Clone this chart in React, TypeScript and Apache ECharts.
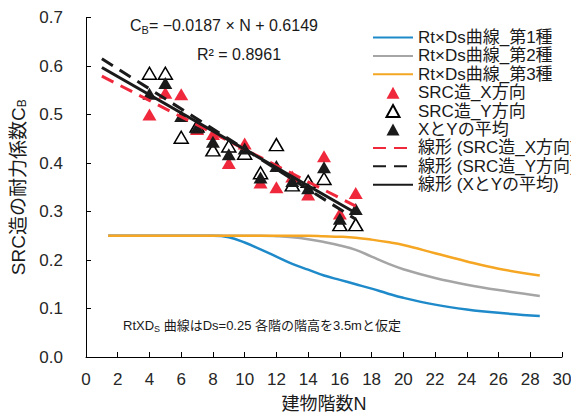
import React, { useEffect, useRef } from "react";
import * as echarts from "echarts";

const FONT = "'Liberation Sans Narrow', 'Liberation Sans', 'Noto Sans CJK JP', sans-serif";

// Building stories for the SRC samples
const storyN = [4, 5, 6, 7, 8, 9, 10, 11, 12, 13, 14, 15, 16, 17];
const srcX = [0.5, 0.545, 0.542, 0.47, 0.46, 0.4, 0.44, 0.36, 0.35, 0.372, 0.335, 0.414, 0.296, 0.338];
const srcY = [0.585, 0.585, 0.453, 0.476, 0.427, 0.435, 0.42, 0.38, 0.438, 0.355, 0.362, 0.368, 0.273, 0.273];
const srcAvg = [0.543, 0.565, 0.497, 0.473, 0.444, 0.418, 0.43, 0.37, 0.394, 0.363, 0.348, 0.391, 0.285, 0.305];

// Trend line end points (N = 1 and N = 17)
const trendN = [1, 17];
const trendX = [0.579, 0.311];
const trendY = [0.615, 0.284];
const trendAvg = [0.597, 0.297];

// Rt x Ds curves
const curveN = [1.4, 8, 9, 10, 11, 12, 13, 14, 15, 16, 17, 18, 19, 20, 22, 24, 26, 28.6];
const rt1 = [0.25, 0.25, 0.247, 0.236, 0.222, 0.207, 0.192, 0.18, 0.168, 0.159, 0.15, 0.141, 0.131, 0.122, 0.108, 0.098, 0.091, 0.0845];
const rt2 = [0.25, 0.25, 0.25, 0.25, 0.25, 0.249, 0.247, 0.243, 0.237, 0.23, 0.221, 0.207, 0.193, 0.181, 0.163, 0.149, 0.138, 0.126];
const rt3 = [0.25, 0.25, 0.25, 0.25, 0.25, 0.25, 0.25, 0.25, 0.249, 0.248, 0.246, 0.242, 0.237, 0.231, 0.214, 0.197, 0.182, 0.168];

const names = [
  "Rt×Ds曲線_第1種",
  "Rt×Ds曲線_第2種",
  "Rt×Ds曲線_第3種",
  "SRC造_X方向",
  "SRC造_Y方向",
  "XとYの平均",
  "線形 (SRC造_X方向)",
  "線形 (SRC造_Y方向)",
  "線形 (XとYの平均)",
];

const xTicks = { min: 0, max: 30, interval: 2 };
const yTicks = { min: 0, max: 0.7, interval: 0.1 };

const zip = (xs: number[], ys: number[]) => xs.map((x, i) => [x, ys[i]]);

// small triangle centred in a 40x13 legend icon box
const LEGEND_TRIANGLE = "path://M0,0L0,0M40,13L40,13M20,0.5L26.5,12.5L13.5,12.5Z";

export default function App() {
  const ref = useRef<HTMLDivElement>(null);
  useEffect(() => {
    if (!ref.current) return;
    const chart = echarts.init(ref.current, null, { renderer: "svg" });
    const curve = (name: string, ys: number[], color: string) => ({
      name,
      type: "line",
      data: zip(curveN, ys),
      smooth: 0.4,
      showSymbol: false,
      symbol: "none",
      lineStyle: { color, width: 2.5 },
      itemStyle: { color },
      z: 2,
    });
    const scatter = (name: string, ys: number[], fill: string, border: string, z: number) => ({
      name,
      type: "scatter",
      data: zip(storyN, ys),
      symbol: "triangle",
      symbolSize: [14, 12],
      itemStyle: { color: fill, borderColor: border, borderWidth: fill === "#ffffff" ? 1.5 : 0, opacity: 1 },
      z,
    });
    const trend = (name: string, ys: number[], color: string, type: any) => ({
      name,
      type: "line",
      data: zip(trendN, ys),
      showSymbol: false,
      symbol: "none",
      lineStyle: { color, width: 3, type },
      itemStyle: { color },
      z: 6,
    });
    const legendData = names.map((n, i) =>
      i >= 3 && i <= 5
        ? { name: n, icon: LEGEND_TRIANGLE }
        : { name: n, itemStyle: { opacity: 0 } }
    );
    chart.setOption({
      animation: false,
      backgroundColor: "#ffffff",
      textStyle: { fontFamily: FONT },
      grid: { left: 78, right: 17, top: 9.5, bottom: 62, containLabel: false, outerBoundsMode: "none" },
      legend: {
        left: 359,
        top: 16,
        orient: "vertical",
        itemWidth: 40,
        itemHeight: 13,
        itemGap: 1.4,
        align: "left",
        symbolKeepAspect: true,
        textStyle: { fontSize: 17, color: "#1a1a1a", fontFamily: FONT, lineHeight: 17 },
        data: legendData,
        selectedMode: false,
      },
      xAxis: {
        type: "value",
        ...xTicks,
        name: "建物階数N",
        nameLocation: "middle",
        nameGap: 38,
        nameTextStyle: { fontSize: 18, color: "#1a1a1a", fontFamily: FONT },
        axisLine: { show: true, lineStyle: { color: "#000", width: 1 } },
        axisTick: { show: true, inside: true, length: 5, lineStyle: { color: "#000" } },
        axisLabel: { fontSize: 17, color: "#262626", margin: 14, fontFamily: FONT },
        splitLine: { show: false },
      },
      yAxis: {
        type: "value",
        ...yTicks,
        name: "SRC造の耐力係数C{s|B}",
        nameLocation: "middle",
        nameGap: 46,
        nameRotate: 90,
        nameTextStyle: {
          fontSize: 19,
          color: "#1a1a1a",
          fontFamily: FONT,
          rich: { s: { fontSize: 12, verticalAlign: "bottom", padding: [8, 0, 0, 0], fontFamily: FONT, color: "#1a1a1a" } },
        },
        axisLine: { show: true, lineStyle: { color: "#000", width: 1 } },
        axisTick: { show: true, inside: true, length: 5, lineStyle: { color: "#000" } },
        axisLabel: {
          fontSize: 17,
          color: "#262626",
          margin: 23,
          fontFamily: FONT,
          formatter: (v: number) => v.toFixed(1),
        },
        splitLine: { show: false },
      },
      graphic: [
        {
          type: "text",
          x: 122,
          y: 8,
          style: {
            text: "{m|C}{s|B}{m|= −0.0187 × N + 0.6149}",
            rich: {
              m: { fontSize: 16, fill: "#1a1a1a", fontFamily: FONT },
              s: { fontSize: 11, fill: "#1a1a1a", fontFamily: FONT, padding: [9, 0, 0, 0] },
            },
          },
          z: 10,
        },
        {
          type: "text",
          x: 189,
          y: 38,
          style: { text: "R² = 0.8961", fontSize: 16, fill: "#1a1a1a", fontFamily: FONT },
          z: 10,
        },
        {
          type: "text",
          x: 115,
          y: 310,
          style: {
            text: "{m|RtXD}{s|S}{m| 曲線はDs=0.25 各階の階高を3.5mと仮定}",
            rich: {
              m: { fontSize: 13, fill: "#1a1a1a", fontFamily: FONT },
              s: { fontSize: 9, fill: "#1a1a1a", fontFamily: FONT, padding: [6, 0, 0, 0] },
            },
          },
          z: 10,
        },
      ],
      series: [
        curve(names[0], rt1, "#1f8ac9"),
        curve(names[1], rt2, "#a5a5a5"),
        curve(names[2], rt3, "#f5a623"),
        scatter(names[3], srcX, "#f0283c", "#f0283c", 3),
        scatter(names[4], srcY, "#ffffff", "#000000", 4),
        scatter(names[5], srcAvg, "#1a1a1a", "#1a1a1a", 5),
        trend(names[6], trendX, "#f0283c", [13, 8]),
        trend(names[7], trendY, "#1a1a1a", [13, 8]),
        trend(names[8], trendAvg, "#1a1a1a", "solid"),
      ],
    });
    return () => chart.dispose();
  }, []);
  return <div ref={ref} style={{ width: 571, height: 411 }} />;
}
